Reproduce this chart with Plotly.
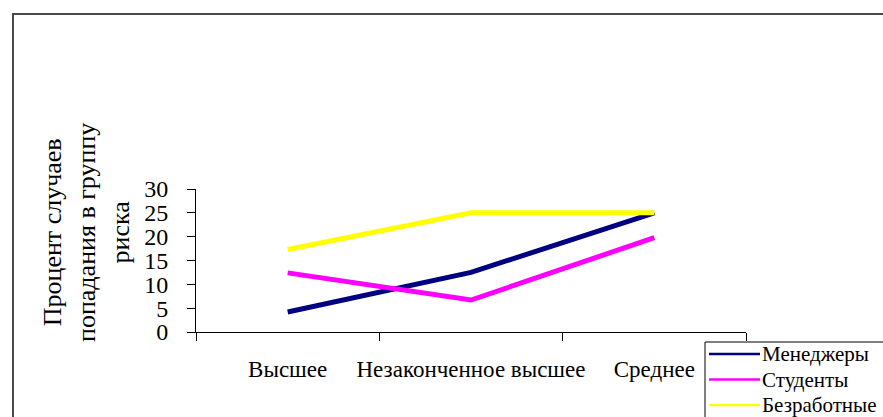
import plotly.graph_objects as go

categories = ["Высшее", "Незаконченное высшее", "Среднее"]
managers = [4.2, 12.5, 25.0]
students = [12.4, 6.7, 19.8]
unemployed = [17.3, 25.0, 25.0]
series_names = ["Менеджеры", "Студенты", "Безработные"]
colors = ["#000080", "#FF00FF", "#FFFF00"]
y_ticks = [0, 5, 10, 15, 20, 25, 30]

W, H = 883, 417
L, R, T, B = 196, 746, 189, 332
pw, ph = R - L, B - T

def px_x(x):
    return (x - L) / pw

def px_y(y):
    return (B - y) / ph

FONT = "Liberation Serif"

fig = go.Figure()
for name, vals, col in zip(series_names, [managers, students, unemployed], colors):
    fig.add_trace(go.Scatter(x=categories, y=vals, mode="lines", name=name,
                             line=dict(color=col, width=5), showlegend=False))

fig.update_layout(
    width=W, height=H,
    margin=dict(l=L, r=W - R, t=T, b=H - B, pad=0, autoexpand=False),
    paper_bgcolor="white", plot_bgcolor="white",
    font=dict(family=FONT, color="black"),
    showlegend=False,
    xaxis=dict(type="category", range=[-0.5, 2.5], showline=True, linecolor="black",
               linewidth=1, ticks="outside", ticklen=8, tickcolor="black",
               tickson="boundaries", showgrid=False, zeroline=False,
               tickangle=0, automargin=False,
               tickfont=dict(family=FONT, size=23, color="black"),
               ticklabelstandoff=16),
    yaxis=dict(range=[0, 30], tickvals=y_ticks, showline=True, linecolor="black",
               linewidth=1, ticks="outside", ticklen=8, tickcolor="black",
               showgrid=False, zeroline=False, automargin=False,
               tickfont=dict(family=FONT, size=24, color="black"),
               ticklabelstandoff=14),
)

fig.add_annotation(
    text="Процент случаев<br>попадания в группу<br>риска",
    xref="paper", yref="paper", x=px_x(86), y=px_y(233),
    xanchor="center", yanchor="middle", textangle=-90, showarrow=False,
    font=dict(family=FONT, size=26, color="black"), align="center",
)

# outer chart frame
fig.add_shape(type="rect", xref="paper", yref="paper",
              x0=px_x(13), x1=px_x(1000), y0=px_y(500), y1=px_y(14),
              line=dict(color="#4a4a4a", width=2), fillcolor="rgba(0,0,0,0)",
              layer="below")

# legend box (drawn manually for compact Excel-like spacing)
LEG_L, LEG_T, ROW0, ROW_H = 705, 342, 354, 25.5
fig.add_shape(type="rect", xref="paper", yref="paper",
              x0=px_x(LEG_L), x1=px_x(1000), y0=px_y(500), y1=px_y(LEG_T),
              line=dict(color="black", width=1), fillcolor="white")
for i, (name, col) in enumerate(zip(series_names, colors)):
    yy = px_y(ROW0 + i * ROW_H)
    fig.add_shape(type="line", xref="paper", yref="paper",
                  x0=px_x(709), x1=px_x(760), y0=yy, y1=yy,
                  line=dict(color=col, width=2.5))
    fig.add_annotation(text=name, xref="paper", yref="paper", x=px_x(760), y=yy,
                       xanchor="left", yanchor="middle", showarrow=False,
                       font=dict(family=FONT, size=21, color="black"))

fig.write_html("out.html", config={"displayModeBar": False},
               post_script="document.body.style.margin='0';")
